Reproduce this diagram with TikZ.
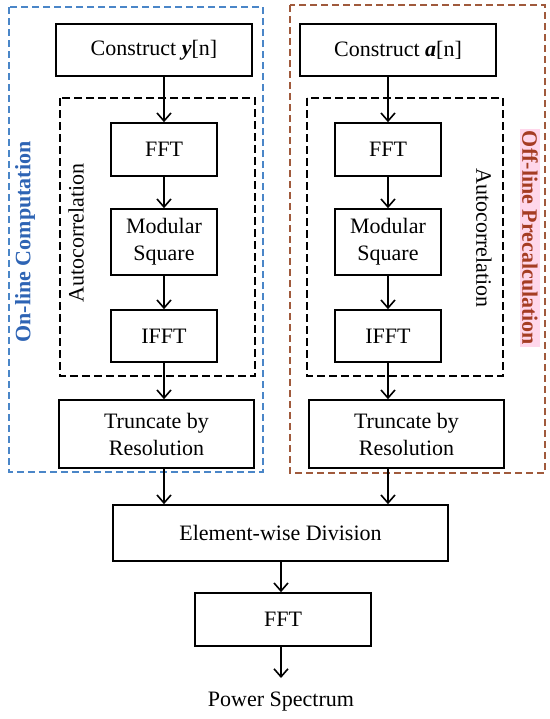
\documentclass[tikz,border=0pt]{standalone}
\usepackage{fontspec}
\setmainfont{Liberation Serif}
\usetikzlibrary{arrows.meta}
\definecolor{onblue}{RGB}{46,100,180}
\definecolor{onframe}{RGB}{74,134,200}
\definecolor{offred}{RGB}{165,60,35}
\definecolor{offframe}{RGB}{160,90,60}
\definecolor{offpink}{RGB}{255,215,235}
\begin{document}
\begin{tikzpicture}[x=0.5pt,y=-0.5pt,
	every node/.style={font=\fontsize{11}{13.5}\selectfont},
	box/.style={draw,line width=0.8pt,align=center,inner sep=0pt},
	arr/.style={line width=0.8pt,-{Straight Barb[length=4pt,width=7pt]}}]
	\useasboundingbox (0,0) rectangle (550,719);
	\draw[onframe,line width=0.7pt,dash pattern=on 3.5pt off 2pt] (9,7) rectangle (263,472);
	\draw[offframe,line width=0.7pt,dash pattern=on 3.5pt off 2pt] (290,5) rectangle (545,473);
	\draw[line width=0.7pt,dash pattern=on 4pt off 2pt] (60,98) rectangle (255,376);
	\draw[line width=0.7pt,dash pattern=on 4pt off 2pt] (307,98) rectangle (503,376);
	\node[box,minimum width=98pt,minimum height=26pt] (consY) at (154,50) {Construct \textbf{\textit{y}}[n]};
	\node[box,minimum width=53pt,minimum height=26.5pt] (fftY) at (164,149.5) {FFT};
	\node[box,minimum width=53pt,minimum height=33pt] (modY) at (164,242) {Modular\\Square};
	\node[box,minimum width=53pt,minimum height=26pt] (ifftY) at (164,336) {IFFT};
	\node[box,minimum width=97.5pt,minimum height=34pt] (truncY) at (156.5,434) {Truncate by\\Resolution};
	\node[box,minimum width=98pt,minimum height=26pt] (consA) at (398,50) {Construct \textbf{\textit{a}}[n]};
	\node[box,minimum width=53pt,minimum height=26.5pt] (fftA) at (388,149.5) {FFT};
	\node[box,minimum width=53pt,minimum height=33pt] (modA) at (388,242) {Modular\\Square};
	\node[box,minimum width=53pt,minimum height=26pt] (ifftA) at (388,336) {IFFT};
	\node[box,minimum width=97.5pt,minimum height=34pt] (truncA) at (406.5,434) {Truncate by\\Resolution};
	\node[box,minimum width=167.5pt,minimum height=28pt] (div) at (280.5,533) {Element-wise Division};
	\node[box,minimum width=88pt,minimum height=26.5pt] (fftP) at (283,619.5) {FFT};
	\node (power) at (281,702) {Power Spectrum};
	\coordinate (powerIn) at (281,678);
	\node[rotate=90,text=onblue,font=\fontsize{11}{13.5}\selectfont\bfseries] (onLbl) at (25,242) {On-line Computation};
	\node[rotate=90] (acY) at (76,233) {Autocorrelation};
	\node[rotate=-90] (acA) at (484,238) {Autocorrelation};
	\node[rotate=-90,fill=offpink,inner sep=1pt,text=offred,font=\fontsize{11}{13.5}\selectfont\bfseries] (offLbl) at (530,238) {Off-line Precalculation};
	\draw[arr] (fftY.north |- consY.south) -- (fftY.north);
	\draw[arr] (fftY) -- (modY);
	\draw[arr] (modY) -- (ifftY);
	\draw[arr] (ifftY.south) -- (ifftY.south |- truncY.north);
	\draw[arr] (ifftY.south |- truncY.south) -- (ifftY.south |- div.north);
	\draw[arr] (fftA.north |- consA.south) -- (fftA.north);
	\draw[arr] (fftA) -- (modA);
	\draw[arr] (modA) -- (ifftA);
	\draw[arr] (ifftA.south) -- (ifftA.south |- truncA.north);
	\draw[arr] (ifftA.south |- truncA.south) -- (ifftA.south |- div.north);
	\draw[arr] (div.south -| powerIn) -- (fftP.north -| powerIn);
	\draw[arr] (fftP.south -| powerIn) -- (powerIn);
\end{tikzpicture}
\end{document}
